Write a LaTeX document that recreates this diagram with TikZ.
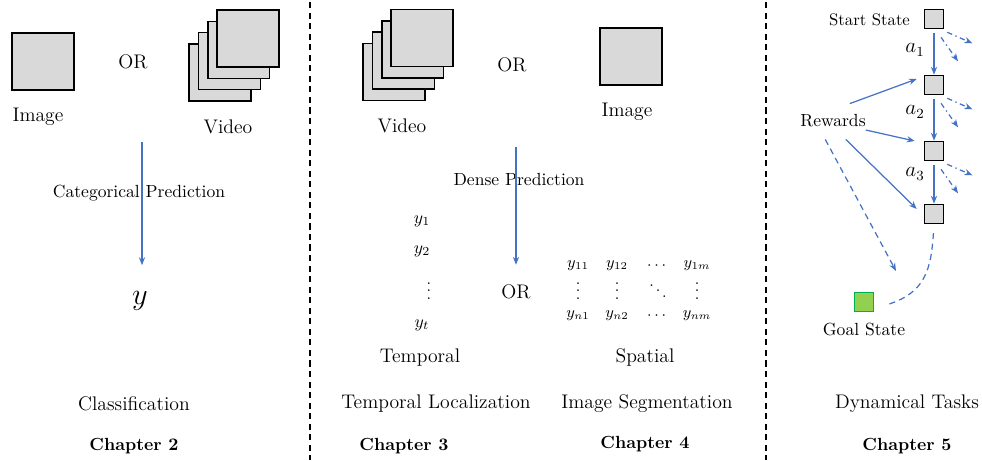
\documentclass[tikz,border=0pt]{standalone}
\usepackage{amsmath}
\usetikzlibrary{arrows.meta,calc}
\definecolor{arrowblue}{RGB}{68,114,196}
\definecolor{boxgray}{RGB}{217,217,217}
\definecolor{goalgreen}{RGB}{146,208,80}
\definecolor{goaledge}{RGB}{0,176,80}
\begin{document}
\begin{tikzpicture}[x=0.02cm,y=-0.02cm,
  frame/.style={draw=black, fill=boxgray, line width=0.9pt, minimum width=1.24cm, minimum height=1.14cm, inner sep=0pt},
  state/.style={draw=black, fill=boxgray, line width=0.9pt, minimum size=0.38cm, inner sep=0pt},
  goal/.style={draw=goaledge, fill=goalgreen, line width=0.9pt, minimum size=0.38cm, inner sep=0pt},
  flow/.style={draw=arrowblue, line width=0.7pt, -{Stealth[length=4.5pt,width=3.5pt]}},
  branch/.style={flow, dash pattern=on 3pt off 2pt on 0.8pt off 2pt},
  dashedflow/.style={flow, dash pattern=on 3.5pt off 2.5pt},
  divider/.style={draw=black, line width=0.7pt, dash pattern=on 3.5pt off 2.5pt},
  lbl/.style={inner sep=1pt, font=\fontsize{11.2}{13}\selectfont},
  note/.style={inner sep=1pt, font=\fontsize{10}{12}\selectfont},
  chap/.style={inner sep=1pt, font=\fontsize{10}{12}\selectfont\bfseries},
  entry/.style={inner sep=0pt, font=\small},
  dots/.style={inner sep=0pt, anchor=base, font=\small}
]
\useasboundingbox (0,0) rectangle (982,460);

% ---------- column dividers ----------
\coordinate (d1t) at (310,2);
\coordinate (d1b) at (310,460);
\coordinate (d2t) at (766,2);
\coordinate (d2b) at (766,460);
\draw[divider] (d1t) -- (d1b);
\draw[divider] (d2t) -- (d2b);

% ---------- Classification ----------
\node[frame] (img1) at (43,61.5) {};
\node[lbl] (img1l) at (38,117) {Image};
\node[lbl] (or1) at (133,62) {OR};
\foreach \k in {3,2,1,0} {
  \node[frame] (vidA\k) at ({248-9.3*\k},{38.5+11.3*\k}) {};
}
\node[lbl] (vid1l) at (228,127) {Video};
\node[note] (catp) at (139,193) {Categorical Prediction};
\coordinate (c1top) at (142,142);
\node[inner sep=0pt, font=\LARGE] (yout) at (140,301) {$y$};
\draw[flow] (c1top) -- ($(yout.north)+(2,-26)$) coordinate (c1end);
\node[lbl] (cls) at (134,404) {Classification};
\node[chap] (ch2) at (134,446) {Chapter 2};

% ---------- Localization / Segmentation ----------
\foreach \k in {3,2,1,0} {
  \node[frame] (vidB\k) at ({422-9.3*\k},{38+11.3*\k}) {};
}
\node[lbl] (vid2l) at (402,126) {Video};
\node[lbl] (or2) at (512,65) {OR};
\node[frame] (img2) at (631,56.5) {};
\node[lbl] (img2l) at (627,112) {Image};
\node[note] (densep) at (519,179) {Dense Prediction};
\coordinate (c2top) at (516,147);
\node[lbl] (or3) at (516,292) {OR};
\draw[flow] (c2top) -- ($(or3.north)+(0,-18)$) coordinate (c2end);

% temporal output column
\node[inner sep=0pt] (t1) at (422,221) {$y_1$};
\node[inner sep=0pt] (t2) at (422,251) {$y_2$};
\node[dots] (t3) at (429,299) {$\smash{\vdots}$};
\node[inner sep=0pt] (t4) at (422,325) {$y_t$};

% spatial output matrix
\node[entry] (m11) at (578,266) {$y_{11}$};
\node[entry] (m12) at (617,266) {$y_{12}$};
\node[entry] (m13) at (658,266) {$\cdots$};
\node[entry] (m14) at (697,266) {$y_{1m}$};
\node[dots] (m21) at (578,299) {$\smash{\vdots}$};
\node[dots] (m22) at (617,299) {$\smash{\vdots}$};
\node[dots] (m23) at (658,299) {$\smash{\ddots}$};
\node[dots] (m24) at (697,299) {$\smash{\vdots}$};
\node[entry] (m31) at (578,316) {$y_{n1}$};
\node[entry] (m32) at (617,316) {$y_{n2}$};
\node[entry] (m33) at (658,316) {$\cdots$};
\node[entry] (m34) at (697,316) {$y_{nm}$};

\node[lbl] (templ) at (420,358) {Temporal};
\node[lbl] (spat) at (645,357) {Spatial};
\node[lbl] (tloc) at (436,404) {Temporal Localization};
\node[lbl] (iseg) at (647,404) {Image Segmentation};
\node[chap] (ch3) at (404,446) {Chapter 3};
\node[chap] (ch4) at (645,444) {Chapter 4};

% ---------- Dynamical tasks ----------
\node[state] (s0) at (934,19) {};
\node[state] (s1) at (934,85) {};
\node[state] (s2) at (934,151) {};
\node[state] (s3) at (934,214) {};
\node[inner sep=1pt, font=\fontsize{9.5}{11}\selectfont, anchor=east] (startl) at (912,20) {Start State};
\node[goal] (gs) at (864,302) {};
\node[note] (goall) at (864,329) {Goal State};
\node[note] (rew) at (833,121) {Rewards};

\node[inner sep=0pt, font=\large] (a1) at (915,50) {$a_1$};
\node[inner sep=0pt, font=\large] (a2) at (915,112) {$a_2$};
\node[inner sep=0pt, font=\large] (a3) at (915,174) {$a_3$};

\draw[flow, shorten <=2pt] (s0.south) -- (s1.north);
\draw[flow, shorten <=2pt] (s1.south) -- (s2.north);
\draw[flow, shorten <=2pt] (s2.south) -- (s3.north);

\foreach \s in {s0,s1,s2} {
  \draw[branch] ($(\s.south east)+(3,3)$) -- ++(25,11);
  \draw[branch] ($(\s.south)+(7,8)$) -- ++(17,24);
}

\draw[flow] ($(rew.north east)+(-18,-9)$) -- ($(s1.west)+(-7,-6)$);
\draw[flow] ($(rew.east)+(-2,9)$) -- ($(s2.west)+(-9,-10)$);
\draw[flow] ($(rew.south east)+(-22,10)$) -- ($(s3.west)+(-7,-5)$);
\draw[dashedflow] ($(rew.south west)+(27,10)$) -- (896,271);

\draw[arrowblue, line width=0.7pt, dash pattern=on 3.5pt off 2.5pt, shorten <=5pt]
  (s3.south) .. controls (931,270) and (925,292) .. ($(gs.east)+(15,2)$);

\node[lbl] (dyn) at (907,404) {Dynamical Tasks};
\node[chap] (ch5) at (907,446) {Chapter 5};
\end{tikzpicture}
\end{document}
